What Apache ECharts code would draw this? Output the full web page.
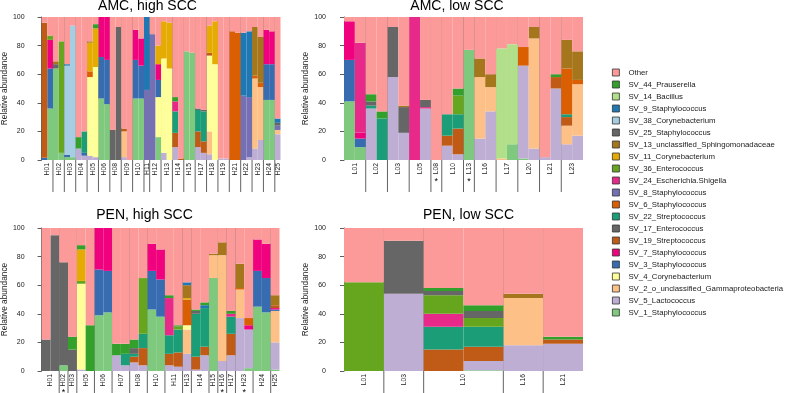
<!DOCTYPE html>
<html>
<head>
<meta charset="utf-8">
<script src="https://cdn.jsdelivr.net/npm/echarts@6.0.0/dist/echarts.min.js"></script>
<style>
  html, body { margin: 0; padding: 0; background: #fff; }
  #chart { width: 785px; height: 393px; }
</style>
</head>
<body>
<div id="chart"></div>
<script>
// taxa in stacking order (bottom first); legend lists them reversed
const taxa = [
  'SV_1_Staphylococcus', 'SV_5_Lactococcus', 'SV_2_o_unclassified_Gammaproteobacteria',
  'SV_4_Corynebacterium', 'SV_3_Staphylococcus', 'SV_7_Staphylococcus', 'SV_19_Streptococcus',
  'SV_17_Enterococcus', 'SV_22_Streptococcus', 'SV_6_Staphylococcus', 'SV_8_Staphylococcus',
  'SV_24_Escherichia.Shigella', 'SV_36_Enterococcus', 'SV_11_Corynebacterium',
  'SV_13_unclassified_Sphingomonadaceae', 'SV_25_Staphylococcus', 'SV_38_Corynebacterium',
  'SV_9_Staphylococcus', 'SV_14_Bacillus', 'SV_44_Prauserella', 'Other'
];
const taxonIds = [1, 5, 2, 4, 3, 7, 19, 17, 22, 6, 8, 24, 36, 11, 13, 25, 38, 9, 14, 44];
const taxonColors = [
  '#7FC97F', '#BEAED4', '#FDC086', '#FFFF99', '#386CB0', '#F0027F', '#BF5B17',
  '#666666', '#1B9E77', '#D95F02', '#7570B3', '#E7298A', '#66A61E', '#E6AB02',
  '#A6761D', '#666666', '#A6CEE3', '#1F78B4', '#B2DF8A', '#33A02C', '#FB9A99'
];

// each bar: [SV id, top of that segment] pairs, bottom up; the rest up to 100 is "Other"
const amcHighGroups = ['H01','H02','H03','H04','H05','H06','H08','H09','H10','H11','H12',
  'H13','H14','H15','H17','H18','H19','H21','H22','H23','H24','H25'];
const amcHighSizes = [2,2,2,2,2,2,2,2,2,1,2,2,2,2,2,2,2,2,2,2,2,1];
const amcHighBars = [
  [[3,1.5],[19,96]], [[1,36],[3,64],[7,84],[36,87]],
  [[1,64],[17,67],[13,69]], [[1,5],[36,83]],
  [[1,2],[3,3.5],[38,66],[9,67]], [[1,2],[38,94]],
  [[5,8],[44,16]], [[5,3],[3,5],[22,20]],
  [[5,3],[4,58],[6,62],[11,82],[13,83]], [[5,2],[4,65],[11,92],[44,95]],
  [[1,43],[3,72],[7,100]], [[1,39],[3,70],[7,100]],
  [[17,21]], [[17,93]],
  [[5,2],[2,20],[19,22]], [],
  [[1,43],[3,70],[7,91]], [[1,43],[3,66],[7,85]],
  [[8,49],[9,100]],
  [[8,88]], [[1,16],[4,44],[3,56],[7,67],[11,80]],
  [[5,5],[4,71],[11,97]], [[4,64],[11,96]],
  [[5,9],[19,19],[22,34],[24,41],[44,44]], [[19,1]],
  [[1,76]], [[1,75]],
  [[5,9],[19,20],[22,35],[25,36]], [[5,5],[19,13],[22,34],[25,35]],
  [[5,4],[2,20],[4,73],[19,75],[11,94]], [[4,67],[11,97]],
  [[5,1]], [[5,1]],
  [[6,90]], [[6,89]],
  [[8,45],[9,89]], [[5,2],[8,44],[9,90]],
  [[5,8],[2,57],[6,59],[13,93]], [[5,14],[2,51],[6,54],[13,86]],
  [[1,42],[3,67],[7,91]], [[1,42],[3,67],[7,90]],
  [[5,18],[2,21],[8,24],[25,26],[9,29]]
];
const amcHighStars = [];

const amcLowGroups = ['L01','L02','L03','L05','L08','L10','L13','L16','L17','L20','L21','L23'];
const amcLowSizes = [2,2,2,2,1,2,1,2,2,2,2,2];
const amcLowBars = [
  [[1,41],[3,70],[7,97]], [[1,9],[3,15],[7,19],[24,82]],
  [[5,36],[22,38],[25,41],[44,46]], [[22,29],[44,34]],
  [[5,58],[25,93]], [[5,19],[17,37],[13,38]],
  [[24,100]], [[5,36],[24,37],[25,42]],
  [],
  [[5,10],[19,17],[22,32]], [[5,4],[19,22],[22,32],[36,45],[44,50]],
  [[1,77]],
  [[5,15],[2,58],[13,71]], [[5,34],[2,51],[13,60]],
  [[2,1],[14,78]], [[1,11],[14,81]],
  [[1,1],[5,66],[6,79]], [[5,8],[2,85],[13,93]],
  [[5,2]], [[5,50],[19,58],[44,60]],
  [[5,11],[2,24],[19,30],[22,32],[6,64],[13,84]], [[5,17],[2,53],[6,56],[13,76]]
];
const amcLowStars = ['L08', 'L13'];

const penHighGroups = ['H01','H02','H03','H05','H06','H07','H08','H10','H11','H13','H14',
  'H15','H16','H17','H23','H24','H25'];
const penHighSizes = [2,1,1,2,2,2,2,2,2,1,2,1,1,1,2,2,1];
const penHighBars = [
  [[17,22]], [[17,95]],
  [[1,4],[17,76]],
  [[17,15],[44,24]],
  [[5,1],[4,61],[36,63],[11,85],[44,88]], [[44,32]],
  [[1,39],[3,71],[7,100]], [[1,41],[3,70],[7,100]],
  [[5,11],[44,19]], [[5,4],[22,12],[44,19]],
  [[5,6],[19,10],[22,12],[25,16],[44,22]], [[5,4],[19,16],[22,26],[36,65]],
  [[1,43],[3,70],[7,89]], [[1,38],[3,64],[7,85]],
  [[5,4],[19,12],[22,25],[24,51],[44,53]], [[5,3],[19,13],[22,29],[36,31],[44,32]],
  [[5,12],[2,29],[4,32],[6,50],[11,51],[13,60],[9,62]],
  [[5,1],[19,10],[22,40],[25,42],[44,43]], [[5,11],[19,17],[22,44],[9,46],[44,48]],
  [[1,65],[2,81],[13,82]],
  [[5,7],[2,81],[13,90]],
  [[5,11],[19,26],[22,38],[24,40],[44,42]],
  [[5,37],[2,57],[6,58],[13,75]], [[1,2],[5,29],[7,32],[6,37]],
  [[1,45],[3,70],[7,92]], [[1,41],[3,65],[7,89]],
  [[1,1],[5,20],[2,42],[3,43],[7,44],[19,46],[13,53]]
];
const penHighStars = ['H02', 'H16', 'H23'];

const penLowGroups = ['L01','L03','L10','L16','L21'];
const penLowSizes = [1,1,2,1,1];
const penLowBars = [
  [[36,62]],
  [[5,54],[25,91]],
  [[19,15],[22,31],[24,40],[36,53],[25,56],[44,58]],
  [[1,0.5],[5,7],[19,17],[22,31],[36,37],[25,42],[44,46]],
  [[5,18],[2,51],[13,54]],
  [[5,19],[19,22],[44,24]]
];
const penLowStars = [];

const panels = [
  { title: 'AMC, high SCC', groups: amcHighGroups, sizes: amcHighSizes, bars: amcHighBars, stars: amcHighStars,
    grid: { left: 40.5, top: 17, width: 240, height: 143 }, titleX: 147.5, titleY: 6, offset: 9, nameGap: 17, lineExt: 32 },
  { title: 'AMC, low SCC', groups: amcLowGroups, sizes: amcLowSizes, bars: amcLowBars, stars: amcLowStars,
    grid: { left: 344, top: 17, width: 239, height: 143 }, titleX: 457, titleY: 6, offset: 10, nameGap: 24, lineExt: 32 },
  { title: 'PEN, high SCC', groups: penHighGroups, sizes: penHighSizes, bars: penHighBars, stars: penHighStars,
    grid: { left: 40.5, top: 228, width: 239, height: 143 }, titleX: 144.5, titleY: 215, offset: 9, nameGap: 22, lineExt: 24 },
  { title: 'PEN, low SCC', groups: penLowGroups, sizes: penLowSizes, bars: penLowBars, stars: penLowStars,
    grid: { left: 344, top: 228, width: 239, height: 143 }, titleX: 468.5, titleY: 215, offset: 10, nameGap: 24, lineExt: 24 }
];

const textColor = '#1a1a1a';
const fontFamily = '"Liberation Sans", Arial, sans-serif';

// turn segment tops into per-taxon heights
function segmentHeights(bars) {
  const out = taxa.map(() => bars.map(() => 0));
  bars.forEach((segs, i) => {
    let prev = 0;
    segs.forEach(([id, top]) => {
      out[taxonIds.indexOf(id)][i] = +(top - prev).toFixed(2);
      prev = top;
    });
    out[taxa.length - 1][i] = +(100 - prev).toFixed(2);
  });
  return out;
}

const grids = [], xAxes = [], yAxes = [], series = [], titles = [];

panels.forEach((p, g) => {
  const n = p.bars.length;
  const starts = [];
  let acc = 0;
  p.sizes.forEach(s => { starts.push(acc); acc += s; });
  const centers = starts.map((s, i) => s + p.sizes[i] / 2);
  const boundaries = starts.slice(1);

  grids.push(Object.assign({ containLabel: false }, p.grid));

  xAxes.push({
    type: 'category', gridIndex: g, show: false, position: 'top',
    data: p.bars.map((_, i) => i)
  });
  xAxes.push({
    type: 'value', gridIndex: g, min: 0, max: n, interval: 0.5, position: 'bottom',
    axisLine: { show: false }, axisTick: { show: false }, splitLine: { show: false },
    axisLabel: {
      rotate: 90, fontSize: 6.8, color: textColor, margin: 3, fontFamily,
      formatter: (v) => {
        const k = centers.findIndex(c => Math.abs(c - v) < 0.01);
        return k >= 0 ? p.groups[k] : '';
      }
    }
  });
  yAxes.push({
    type: 'value', gridIndex: g, min: 0, max: 100, interval: 20, offset: p.offset,
    name: 'Relative abundance', nameLocation: 'middle', nameGap: p.nameGap,
    nameTextStyle: { fontSize: 8.3, color: textColor, fontFamily },
    axisLine: { show: true, lineStyle: { color: '#333', width: 0.8 } },
    axisTick: { show: true, length: 4, lineStyle: { color: '#333', width: 0.8 } },
    axisLabel: { fontSize: 7, color: textColor, margin: 8, fontFamily },
    splitLine: { show: false }
  });

  const heights = segmentHeights(p.bars);
  taxa.forEach((name, t) => {
    series.push({
      name, type: 'bar', stack: 'panel' + g,
      xAxisIndex: g * 2, yAxisIndex: g,
      barCategoryGap: '0%',
      itemStyle: { color: taxonColors[t] },
      emphasis: { disabled: true },
      data: heights[t]
    });
  });

  // group separators run from the top of the plot down through the labels
  series.push({
    type: 'custom', name: 'sep' + g, xAxisIndex: g * 2 + 1, yAxisIndex: g,
    clip: false, silent: true, encode: { x: 0, y: 1 },
    data: boundaries.map(b => [b, 0]),
    renderItem: (params, api) => {
      const top = api.coord([api.value(0), 100]);
      const bottom = api.coord([api.value(0), 0]);
      return {
        type: 'line',
        shape: { x1: top[0], y1: top[1], x2: top[0], y2: bottom[1] + p.lineExt },
        style: { stroke: '#3a3a3a', lineWidth: 0.8 }
      };
    }
  });

  if (p.stars.length) {
    series.push({
      type: 'custom', name: 'star' + g, xAxisIndex: g * 2 + 1, yAxisIndex: g,
      clip: false, silent: true, encode: { x: 0, y: 1 },
      data: p.stars.map(s => [centers[p.groups.indexOf(s)], 0]),
      renderItem: (params, api) => {
        const pt = api.coord([api.value(0), 0]);
        return {
          type: 'text', x: pt[0], y: pt[1] + 22,
          style: { text: '*', fontSize: 9, fontFamily, fill: '#000', align: 'center', verticalAlign: 'middle' }
        };
      }
    });
  }

  titles.push({
    type: 'text', x: p.titleX, y: p.titleY,
    style: { text: p.title, fontSize: 14, fontFamily, fill: '#000', align: 'center', verticalAlign: 'middle' }
  });
});

const chart = echarts.init(document.getElementById('chart'));
chart.setOption({
  animation: false,
  backgroundColor: '#fff',
  textStyle: { fontFamily },
  graphic: titles,
  legend: {
    data: taxa.slice().reverse(),
    orient: 'vertical', left: 612, top: 66.5, padding: 0,
    icon: 'rect', itemWidth: 7, itemHeight: 7, itemGap: 0,
    itemStyle: { borderColor: '#333', borderWidth: 0.8 },
    selectedMode: false,
    textStyle: { fontSize: 7.8, color: textColor, lineHeight: 12, padding: [0, 0, 0, 4], fontFamily }
  },
  grid: grids,
  xAxis: xAxes,
  yAxis: yAxes,
  series
});
</script>
</body>
</html>
